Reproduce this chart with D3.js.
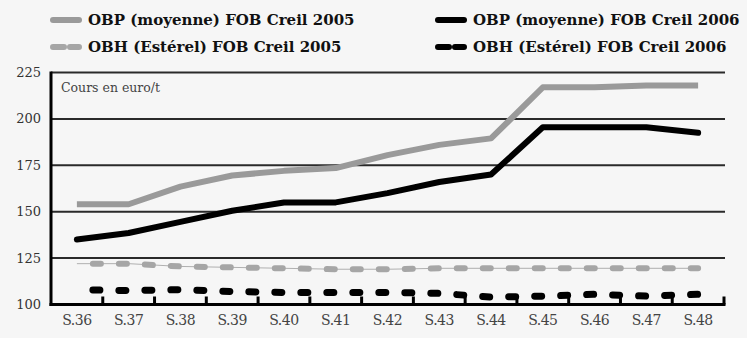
<!DOCTYPE html>
<html><head><meta charset="utf-8">
<script src="https://cdn.jsdelivr.net/npm/d3@7"></script>
<style>
body{margin:0;background:#f6f6f6;}
svg{display:block;}
text{font-family:"DejaVu Serif",serif;}
</style></head>
<body><svg id="c" width="747" height="338"></svg>
<script>
const weeks = ["S.36","S.37","S.38","S.39","S.40","S.41","S.42","S.43","S.44","S.45","S.46","S.47","S.48"];
const obp2005 = [154,154,163.5,169.5,172,173.5,180.5,186,189.5,217,217,218,218];
const obp2006 = [135,138.5,144.5,150.5,155,155,160,166,170,195.5,195.5,195.5,192.5];
const obh2005 = [122,122,120.5,120,119.5,119,119,119.5,119.5,119.5,119.5,119.5,119.5];
const obh2006 = [108,107.5,108,107,106.5,106.5,106.5,106,104,104.5,105.5,104.5,105.5];
const yTicks = [100,125,150,175,200,225];
const legendLabels = ["OBP (moyenne) FOB Creil 2005","OBH (Estérel) FOB Creil 2005","OBP (moyenne) FOB Creil 2006","OBH (Estérel) FOB Creil 2006"];

const svg = d3.select("#c");
const L=51, R=724, T=72.5, B=304.5;
const x = d3.scaleBand().domain(weeks).range([L,R]);
const y = d3.scaleLinear().domain([100,225]).range([B,T]);

// gridlines
svg.append("g").selectAll("line").data(yTicks.filter(d=>d>100)).join("line")
  .attr("x1",L).attr("x2",R+1).attr("y1",d=>y(d)).attr("y2",d=>y(d))
  .attr("stroke","#2a2a2a").attr("stroke-width",2);

// y labels
svg.append("g").selectAll("text").data(yTicks).join("text")
  .attr("x",41).attr("y",d=>y(d)+4.5).attr("text-anchor","end")
  .attr("font-size",13).attr("fill","#333").text(d=>d);

// x labels
svg.append("g").selectAll("text").data(weeks).join("text")
  .attr("x",d=>x(d)+x.bandwidth()/2).attr("y",325).attr("text-anchor","middle")
  .attr("font-size",14).attr("fill","#444").attr("letter-spacing","-0.5").text(d=>d);

// axes
svg.append("line").attr("x1",L).attr("x2",L).attr("y1",T-1).attr("y2",B+1.5).attr("stroke","#000").attr("stroke-width",3);
svg.append("line").attr("x1",L-1.5).attr("x2",R+1.5).attr("y1",B).attr("y2",B).attr("stroke","#000").attr("stroke-width",3);
// ticks on band boundaries
svg.append("g").selectAll("line").data(weeks.slice(1).map(w=>x(w)).concat([R])).join("line")
  .attr("x1",d=>d).attr("x2",d=>d).attr("y1",B).attr("y2",B-8)
  .attr("stroke","#000").attr("stroke-width",3);

svg.append("text").attr("x",61).attr("y",92).attr("font-size",12.5).attr("fill","#444").text("Cours en euro/t");

const cx = (d,i)=>x(weeks[i])+x.bandwidth()/2;
const line = d3.line().x(cx).y(d=>y(d));

// OBH 2005: thin line + thick dashes
svg.append("path").attr("d",line(obh2005)).attr("fill","none").attr("stroke","#b0b0b0").attr("stroke-width",1);
svg.append("path").attr("d",line(obh2005)).attr("fill","none").attr("stroke","#a6a6a6").attr("stroke-width",6)
  .attr("stroke-linecap","round").attr("stroke-dasharray","8 18").attr("stroke-dashoffset",10);
// OBH 2006
svg.append("path").attr("d",line(obh2006)).attr("fill","none").attr("stroke","#000").attr("stroke-width",7)
  .attr("stroke-linecap","round").attr("stroke-dasharray","7 19").attr("stroke-dashoffset",10);
// OBP 2005
svg.append("path").attr("d",line(obp2005)).attr("fill","none").attr("stroke","#9a9a9a").attr("stroke-width",6).attr("stroke-linejoin","round");
// OBP 2006
svg.append("path").attr("d",line(obp2006)).attr("fill","none").attr("stroke","#000").attr("stroke-width",6).attr("stroke-linejoin","round").attr("stroke-linecap","round");

// legend
const leg = [
  {x:50,y:20,c:"#9a9a9a",dash:null,t:legendLabels[0]},
  {x:50,y:47,c:"#a6a6a6",dash:"11 6",t:legendLabels[1]},
  {x:435,y:20,c:"#000",dash:null,t:legendLabels[2]},
  {x:435,y:47,c:"#000",dash:"11 6",t:legendLabels[3]}
];
const lg = svg.append("g").selectAll("g").data(leg).join("g");
lg.append("line").attr("x1",d=>d.x+3).attr("x2",d=>d.x+29).attr("y1",d=>d.y).attr("y2",d=>d.y)
  .attr("stroke",d=>d.c).attr("stroke-width",6).attr("stroke-linecap","round")
  .attr("stroke-dasharray",d=>d.dash);
lg.append("text").attr("x",d=>d.x+38).attr("y",d=>d.y+5).attr("font-size",15).attr("font-weight","bold")
  .attr("fill","#111").text(d=>d.t);
</script></body></html>
